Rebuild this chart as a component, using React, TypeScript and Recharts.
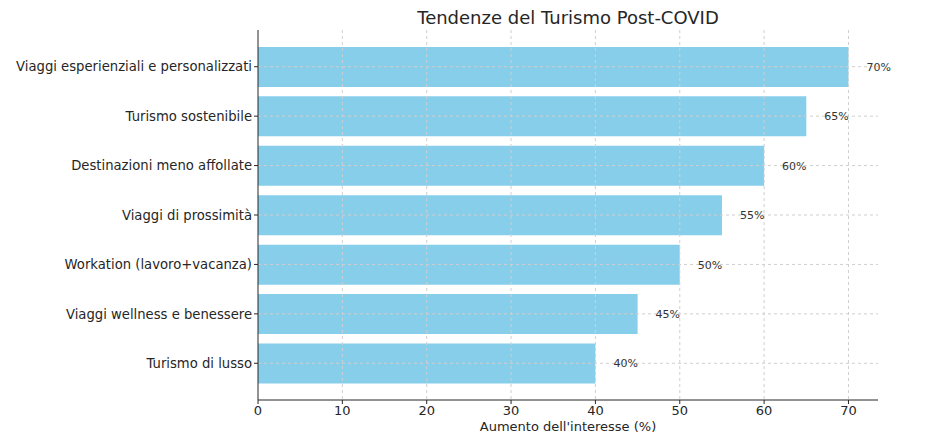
import React from "react";
import {
  BarChart,
  Bar,
  XAxis,
  YAxis,
  CartesianGrid,
  LabelList,
} from "recharts";

const categories = [
  "Viaggi esperienziali e personalizzati",
  "Turismo sostenibile",
  "Destinazioni meno affollate",
  "Viaggi di prossimità",
  "Workation (lavoro+vacanza)",
  "Viaggi wellness e benessere",
  "Turismo di lusso",
];
const increase = [70, 65, 60, 55, 50, 45, 40];
const xTicks = [0, 10, 20, 30, 40, 50, 60, 70];
const xMax = 73.5;

const data = categories.map((name, i) => ({ name, value: increase[i] }));

const FONT = "'DejaVu Sans', sans-serif";

// grid only at the inner ticks, no border lines
const vGrid = ({ xAxis, offset }: any) => {
  const sc = xAxis && xAxis.scale;
  return xTicks
    .filter((t) => t > 0)
    .map((t) =>
      typeof sc === "function"
        ? sc(t)
        : offset.left + (t / xMax) * offset.width
    );
};

const hGrid = ({ yAxis, offset }: any) => {
  const sc = yAxis && yAxis.scale;
  if (sc && typeof sc === "function" && sc.bandwidth) {
    return categories.map((c) => sc(c) + sc.bandwidth() / 2);
  }
  const pad = 12;
  const band = (offset.height - 2 * pad) / categories.length;
  return categories.map((_, i) => offset.top + pad + band * (i + 0.5));
};

// single-line category labels (no wrapping)
const CatTick = ({ x, y, payload }: any) => (
  <text
    x={x}
    y={y}
    dy="0.36em"
    textAnchor="end"
    fill="#262626"
    fontSize={13.2}
    fontFamily={FONT}
  >
    {payload.value}
  </text>
);

export default function App() {
  return (
    <div
      style={{
        position: "absolute",
        left: 0,
        top: 0,
        width: 937,
        height: 447,
        background: "#fff",
        fontFamily: FONT,
      }}
    >
      <div
        style={{
          position: "absolute",
          left: 258,
          width: 620,
          top: 7,
          textAlign: "center",
          fontSize: 18,
          color: "#262626",
        }}
      >
        Tendenze del Turismo Post-COVID
      </div>
      <BarChart
        width={937}
        height={447}
        data={data}
        layout="vertical"
        margin={{ top: 30, right: 59, left: 0, bottom: 0 }}
        barCategoryGap="10%"
      >
        <Bar dataKey="value" fill="#87CEEB" isAnimationActive={false}>
          <LabelList
            dataKey="value"
            position="right"
            offset={18}
            formatter={(v: number) => `${v}%`}
            style={{ fill: "#333", fontSize: 11, fontFamily: FONT }}
          />
        </Bar>
        <CartesianGrid
          strokeDasharray="3 3"
          stroke="#cfcfcf"
          zIndex={500}
          verticalCoordinatesGenerator={vGrid}
          horizontalCoordinatesGenerator={hGrid}
        />
        <XAxis
          type="number"
          domain={[0, xMax]}
          ticks={xTicks}
          height={47}
          tickSize={4}
          tickMargin={2}
          stroke="#262626"
          tick={{ fill: "#262626", fontSize: 13, fontFamily: FONT }}
          label={{
            value: "Aumento dell'interesse (%)",
            position: "insideBottom",
            offset: 16,
            fill: "#262626",
            fontSize: 13,
            fontFamily: FONT,
          }}
        />
        <YAxis
          type="category"
          dataKey="name"
          width={258}
          tickSize={4}
          tickMargin={2}
          stroke="#262626"
          padding={{ top: 12, bottom: 12 }}
          tick={<CatTick />}
          interval={0}
        />
      </BarChart>
    </div>
  );
}
